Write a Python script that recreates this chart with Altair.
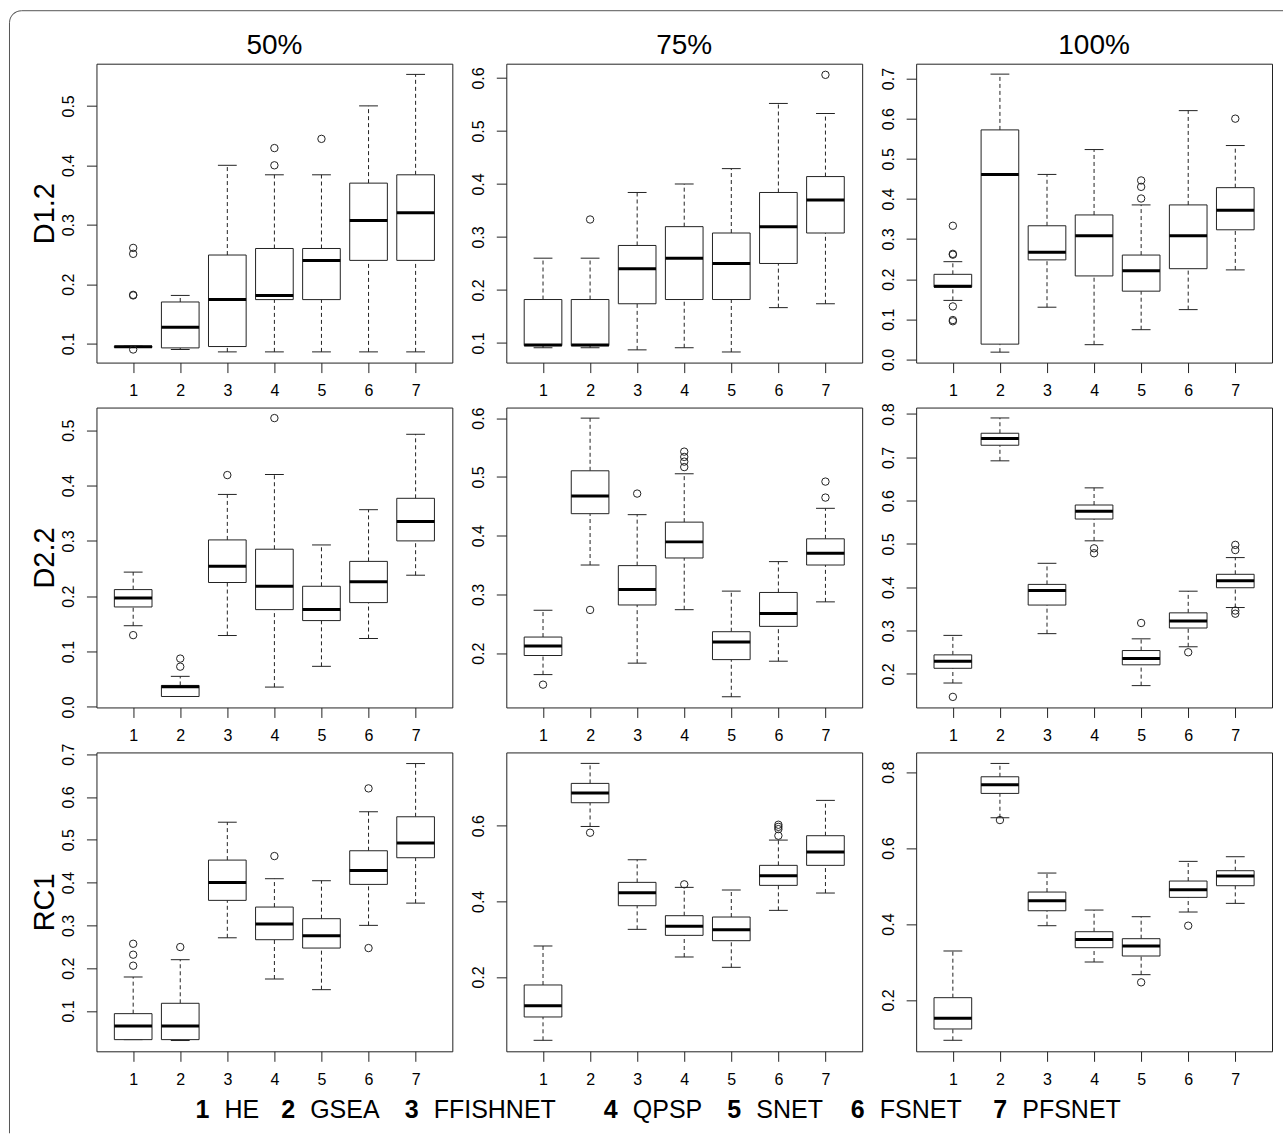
import altair as alt
import pandas as pd

METHODS = [1, 2, 3, 4, 5, 6, 7]
METHOD_NAMES = ["HE", "GSEA", "FFISHNET", "QPSP", "SNET", "FSNET", "PFSNET"]
ROW_TITLES = ["D1.2", "D2.2", "RC1"]
COL_TITLES = ["50%", "75%", "100%"]

# ---- D1.2 ----
D12_50 = dict(
    low=[0.0935, 0.090, 0.086, 0.086, 0.086, 0.086, 0.086],
    q1=[0.0935, 0.0927, 0.095, 0.174, 0.174, 0.240, 0.240],
    med=[0.0945, 0.1275, 0.174, 0.181, 0.240, 0.307, 0.320],
    q3=[0.0955, 0.170, 0.249, 0.260, 0.260, 0.370, 0.384],
    high=[0.0955, 0.181, 0.400, 0.384, 0.384, 0.500, 0.553],
)
D12_50_OUT_M = [1, 1, 1, 1, 1, 4, 4, 5]
D12_50_OUT_V = [0.090, 0.181, 0.182, 0.251, 0.261, 0.400, 0.429, 0.4445]
D12_50_YDOM = [0.068, 0.571]
D12_50_TICKS = [0.1, 0.2, 0.3, 0.4, 0.5]

D12_75 = dict(
    low=[0.091, 0.091, 0.087, 0.091, 0.083, 0.1667, 0.174],
    q1=[0.095, 0.095, 0.174, 0.182, 0.182, 0.250, 0.3075],
    med=[0.096, 0.096, 0.240, 0.260, 0.250, 0.3195, 0.370],
    q3=[0.182, 0.182, 0.284, 0.3195, 0.3075, 0.384, 0.414],
    high=[0.260, 0.260, 0.384, 0.400, 0.429, 0.552, 0.533],
)
D12_75_OUT_M = [2, 7]
D12_75_OUT_V = [0.333, 0.606]
D12_75_YDOM = [0.063, 0.627]
D12_75_TICKS = [0.1, 0.2, 0.3, 0.4, 0.5, 0.6]

D12_100 = dict(
    low=[0.147, 0.018, 0.130, 0.0366, 0.074, 0.124, 0.223],
    q1=[0.180, 0.038, 0.248, 0.208, 0.170, 0.226, 0.323],
    med=[0.182, 0.461, 0.267, 0.308, 0.221, 0.308, 0.3716],
    q3=[0.212, 0.572, 0.333, 0.360, 0.260, 0.385, 0.428],
    high=[0.2435, 0.711, 0.461, 0.523, 0.385, 0.620, 0.533],
)
D12_100_OUT_M = [1, 1, 1, 1, 1, 1, 5, 5, 5, 7]
D12_100_OUT_V = [0.132, 0.095, 0.098, 0.261, 0.263, 0.333, 0.401, 0.430, 0.446, 0.600]
D12_100_YDOM = [-0.008, 0.737]
D12_100_TICKS = [0.0, 0.1, 0.2, 0.3, 0.4, 0.5, 0.6, 0.7]

# ---- D2.2 ----
D22_50 = dict(
    low=[0.1467, 0.0188, 0.129, 0.0358, 0.0733, 0.1236, 0.238],
    q1=[0.1806, 0.0188, 0.2248, 0.1758, 0.156, 0.1885, 0.300],
    med=[0.197, 0.0364, 0.254, 0.218, 0.1758, 0.226, 0.335],
    q3=[0.212, 0.0388, 0.3018, 0.285, 0.218, 0.263, 0.377],
    high=[0.2436, 0.0552, 0.384, 0.420, 0.2927, 0.3564, 0.4927],
)
D22_50_OUT_M = [1, 2, 2, 3, 4]
D22_50_OUT_V = [0.1297, 0.0727, 0.0873, 0.419, 0.522]
D22_50_YDOM = [-0.001, 0.541]
D22_50_TICKS = [0.0, 0.1, 0.2, 0.3, 0.4, 0.5]

D22_75 = dict(
    low=[0.1635, 0.350, 0.183, 0.274, 0.1258, 0.1863, 0.2873],
    q1=[0.196, 0.4374, 0.282, 0.362, 0.189, 0.2456, 0.350],
    med=[0.212, 0.4676, 0.3084, 0.3894, 0.2188, 0.2673, 0.370],
    q3=[0.2274, 0.5104, 0.349, 0.423, 0.2365, 0.3033, 0.3946],
    high=[0.273, 0.600, 0.4357, 0.5053, 0.3056, 0.3558, 0.4465],
)
D22_75_OUT_M = [1, 2, 3, 4, 4, 4, 4, 7, 7]
D22_75_OUT_V = [0.1464, 0.2736, 0.4716, 0.5167, 0.526, 0.534, 0.543, 0.4648, 0.492]
D22_75_YDOM = [0.1076, 0.618]
D22_75_TICKS = [0.2, 0.3, 0.4, 0.5, 0.6]

D22_100 = dict(
    low=[0.179, 0.692, 0.293, 0.5073, 0.173, 0.2627, 0.3533],
    q1=[0.213, 0.728, 0.359, 0.5576, 0.221, 0.306, 0.399],
    med=[0.2294, 0.7433, 0.3927, 0.5754, 0.2356, 0.3223, 0.415],
    q3=[0.244, 0.7557, 0.4067, 0.590, 0.254, 0.341, 0.430],
    high=[0.289, 0.791, 0.4554, 0.6296, 0.281, 0.391, 0.4686],
)
D22_100_OUT_M = [1, 4, 4, 5, 6, 7, 7, 7, 7]
D22_100_OUT_V = [0.147, 0.490, 0.4786, 0.3176, 0.250, 0.3463, 0.339, 0.498, 0.486]
D22_100_YDOM = [0.1226, 0.815]
D22_100_TICKS = [0.2, 0.3, 0.4, 0.5, 0.6, 0.7, 0.8]

# ---- RC1 ----
RC1_50 = dict(
    low=[0.0331, 0.031, 0.271, 0.1747, 0.1498, 0.300, 0.352],
    q1=[0.0331, 0.0331, 0.3584, 0.2665, 0.247, 0.3957, 0.458],
    med=[0.065, 0.065, 0.4004, 0.303, 0.2759, 0.4284, 0.4922],
    q3=[0.0938, 0.118, 0.4525, 0.3428, 0.3156, 0.4743, 0.5537],
    high=[0.1794, 0.2198, 0.541, 0.409, 0.4043, 0.5654, 0.678],
)
RC1_50_OUT_M = [1, 1, 1, 2, 4, 6, 6]
RC1_50_OUT_V = [0.2058, 0.2315, 0.257, 0.2494, 0.4619, 0.247, 0.620]
RC1_50_YDOM = [0.0058, 0.704]
RC1_50_TICKS = [0.1, 0.2, 0.3, 0.4, 0.5, 0.6, 0.7]

RC1_75 = dict(
    low=[0.0326, 0.598, 0.326, 0.2529, 0.2256, 0.3762, 0.422],
    q1=[0.0943, 0.6608, 0.3885, 0.3101, 0.296, 0.4423, 0.4952],
    med=[0.1242, 0.6863, 0.4229, 0.3339, 0.3251, 0.4678, 0.5304],
    q3=[0.1789, 0.7119, 0.4502, 0.3621, 0.3586, 0.4952, 0.5736],
    high=[0.282, 0.7648, 0.510, 0.437, 0.430, 0.562, 0.667],
)
RC1_75_OUT_M = [2, 4, 6, 6, 6, 6]
RC1_75_OUT_V = [0.5815, 0.445, 0.5736, 0.591, 0.597, 0.6026]
RC1_75_YDOM = [0.0035, 0.7938]
RC1_75_TICKS = [0.2, 0.4, 0.6]

RC1_100 = dict(
    low=[0.0939, 0.6798, 0.3956, 0.300, 0.2667, 0.4316, 0.4544],
    q1=[0.1237, 0.7439, 0.435, 0.3377, 0.3158, 0.4702, 0.5009],
    med=[0.1518, 0.7667, 0.4614, 0.3596, 0.3421, 0.4904, 0.5263],
    q3=[0.2061, 0.7877, 0.4842, 0.3798, 0.3614, 0.5132, 0.5404],
    high=[0.329, 0.8228, 0.5342, 0.4368, 0.4193, 0.565, 0.5772],
)
RC1_100_OUT_M = [2, 5, 6]
RC1_100_OUT_V = [0.6737, 0.2465, 0.3956]
RC1_100_YDOM = [0.0649, 0.8518]
RC1_100_TICKS = [0.2, 0.4, 0.6, 0.8]

XLIM = [0.22, 7.78]
INK = "#222222"
FRAME_INK = "#555555"
FONT = "Liberation Sans"
PANEL_W = 356
ROW_H = [299, 300, 299]


def frame_layers():
    """Rounded top-left page border (only the top and left edges are visible)."""
    one = alt.Chart(pd.DataFrame({"f": [0]}))
    top = one.mark_rule(color=FRAME_INK, strokeWidth=1).encode(
        x=alt.value(-75), x2=alt.value(1187), y=alt.value(-53))
    left = one.mark_rule(color=FRAME_INK, strokeWidth=1).encode(
        x=alt.value(-87), y=alt.value(-41), y2=alt.value(1070))
    corner = one.mark_arc(color=FRAME_INK, innerRadius=11.5, radius=12.5).encode(
        x=alt.value(-75), y=alt.value(-41),
        theta=alt.value(4.7124), theta2=alt.value(6.2832))
    return [top, left, corner]


def panel(stats, out_m, out_v, ydom, ticks, height, row_title=None, col_title=None, frame=False):
    df = pd.DataFrame({"method": METHODS, **stats})
    odf = pd.DataFrame({"method": out_m, "value": out_v})
    xs = alt.Scale(domain=XLIM, nice=False, zero=False)
    ys = alt.Scale(domain=ydom, nice=False, zero=False)
    xaxis = alt.Axis(values=METHODS, format="d", title=None, grid=False, domain=False,
                     tickSize=10, tickColor=INK, labelPadding=10, labelFontSize=16,
                     labelAngle=0, labelColor="black", labelFont=FONT)
    ykw = dict(values=ticks, format=".1f", grid=False, domain=False, tickSize=10,
               tickColor=INK, labelPadding=10, labelFontSize=16, labelAngle=270,
               labelAlign="center", labelBaseline="bottom", labelColor="black",
               labelFont=FONT, labelOverlap=False)
    if row_title:
        ykw.update(title=row_title, titleFontSize=29, titleFontWeight="normal",
                   titleColor="black", titleFont=FONT, titlePadding=1)
    else:
        ykw.update(title=None)
    yaxis = alt.Axis(**ykw)

    base = alt.Chart(df).transform_calculate(
        lo="datum.method - 0.4", hi="datum.method + 0.4",
        clo="datum.method - 0.2", chi="datum.method + 0.2")

    def X(f):
        return alt.X(f, scale=xs, axis=xaxis)

    def Y(f):
        return alt.Y(f, scale=ys, axis=yaxis)

    whisk_lo = base.mark_rule(color=INK, strokeWidth=1, strokeDash=[4, 3]).encode(
        x=X("method:Q"), y=Y("low:Q"), y2="q1:Q")
    whisk_hi = base.mark_rule(color=INK, strokeWidth=1, strokeDash=[4, 3]).encode(
        x=X("method:Q"), y=Y("q3:Q"), y2="high:Q")
    cap_lo = base.mark_rule(color=INK, strokeWidth=1).encode(
        x=X("clo:Q"), x2="chi:Q", y=Y("low:Q"))
    cap_hi = base.mark_rule(color=INK, strokeWidth=1).encode(
        x=X("clo:Q"), x2="chi:Q", y=Y("high:Q"))
    box = base.mark_rect(fill="white", stroke=INK, strokeWidth=1).encode(
        x=X("lo:Q"), x2="hi:Q", y=Y("q1:Q"), y2="q3:Q")
    median = base.mark_rule(color="black", strokeWidth=3).encode(
        x=X("lo:Q"), x2="hi:Q", y=Y("med:Q"))
    outl = alt.Chart(odf).mark_point(shape="circle", filled=False, size=55,
                                     color=INK, strokeWidth=1, opacity=1).encode(
        x=X("method:Q"), y=Y("value:Q"))

    layers = []
    if frame:
        layers += frame_layers()
    layers += [whisk_lo, whisk_hi, cap_lo, cap_hi, box, median, outl]
    if col_title:
        tt = alt.Chart(pd.DataFrame({"t": [col_title]})).mark_text(
            fontSize=28, align="center", baseline="alphabetic", color="black", font=FONT
        ).encode(text="t:N", x=alt.value(PANEL_W / 2), y=alt.value(-10))
        layers.append(tt)
    return alt.layer(*layers).properties(width=PANEL_W, height=height)


p11 = panel(D12_50, D12_50_OUT_M, D12_50_OUT_V, D12_50_YDOM, D12_50_TICKS, ROW_H[0],
            row_title=ROW_TITLES[0], col_title=COL_TITLES[0], frame=True)
p12 = panel(D12_75, D12_75_OUT_M, D12_75_OUT_V, D12_75_YDOM, D12_75_TICKS, ROW_H[0],
            col_title=COL_TITLES[1])
p13 = panel(D12_100, D12_100_OUT_M, D12_100_OUT_V, D12_100_YDOM, D12_100_TICKS, ROW_H[0],
            col_title=COL_TITLES[2])
p21 = panel(D22_50, D22_50_OUT_M, D22_50_OUT_V, D22_50_YDOM, D22_50_TICKS, ROW_H[1],
            row_title=ROW_TITLES[1])
p22 = panel(D22_75, D22_75_OUT_M, D22_75_OUT_V, D22_75_YDOM, D22_75_TICKS, ROW_H[1])
p23 = panel(D22_100, D22_100_OUT_M, D22_100_OUT_V, D22_100_YDOM, D22_100_TICKS, ROW_H[1])
p31 = panel(RC1_50, RC1_50_OUT_M, RC1_50_OUT_V, RC1_50_YDOM, RC1_50_TICKS, ROW_H[2],
            row_title=ROW_TITLES[2])
p32 = panel(RC1_75, RC1_75_OUT_M, RC1_75_OUT_V, RC1_75_YDOM, RC1_75_TICKS, ROW_H[2])
p33 = panel(RC1_100, RC1_100_OUT_M, RC1_100_OUT_V, RC1_100_YDOM, RC1_100_TICKS, ROW_H[2])

# ---- bottom key: bold number + method name, spaced by name length ----
leg_df = pd.DataFrame({"num": [str(m) for m in METHODS], "name": METHOD_NAMES})
legbase = alt.Chart(leg_df).transform_calculate(
    w="length(datum.name) + 2.54"
).transform_window(
    cum="sum(w)", sort=[alt.SortField("num")], frame=[None, 0]
).transform_calculate(start="datum.cum - datum.w")
lx = alt.X("start:Q", scale=alt.Scale(domain=[0, 48], range=[99, 1006]), axis=None)
leg_nums = legbase.mark_text(align="left", baseline="middle", fontSize=25,
                             fontWeight="bold", color="black", font=FONT).encode(
    x=lx, y=alt.value(14), text="num:N")
leg_names = legbase.mark_text(align="left", baseline="middle", fontSize=25,
                              color="black", dx=29, font=FONT).encode(
    x=lx, y=alt.value(14), text="name:N")
legend = alt.layer(leg_nums, leg_names).properties(
    width=PANEL_W, height=20, view=alt.ViewBackground(stroke="transparent"))

chart = alt.concat(
    p11, p12, p13, p21, p22, p23, p31, p32, p33, legend,
    columns=3, spacing={"row": 45, "column": 54}, bounds="flush",
).properties(
    padding={"left": 8.5, "top": 9.5, "right": 0, "bottom": 0},
    background="white",
).configure(font=FONT).configure_view(stroke=INK, strokeWidth=1)

chart.save("out.html", embed_options={"renderer": "svg", "actions": False})
